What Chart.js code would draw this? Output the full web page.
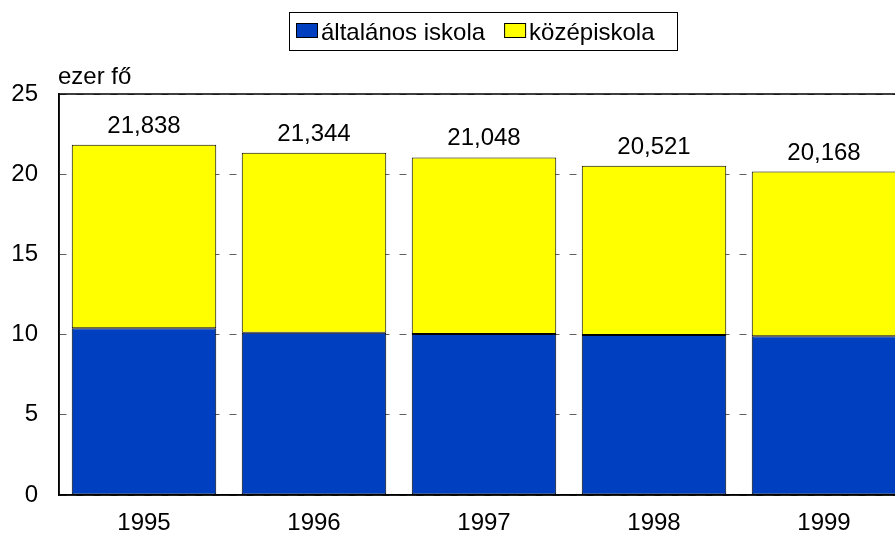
<!DOCTYPE html>
<html>
<head>
<meta charset="utf-8">
<script src="https://cdn.jsdelivr.net/npm/chart.js@4"></script>
<style>
  body { margin: 0; background: #fff; }
  #wrap { width: 895px; height: 534px; overflow: hidden; }
</style>
</head>
<body>
<div id="wrap"><canvas id="myChart" width="915" height="534"></canvas></div>
<script>
const years = ["1995", "1996", "1997", "1998", "1999"];
const totals = [21.838, 21.344, 21.048, 20.521, 20.168];
const altalanos = [10.4, 10.11, 10.03, 9.97, 9.9];
const kozep = [11.438, 11.234, 11.018, 10.551, 10.268];
const seriesNames = ["általános iskola", "középiskola"];
const seriesColors = ["#0040c0", "#ffff00"];

const FONT = "'Liberation Sans', Arial, sans-serif";

// frame, unit label, totals above bars, boxed legend
const extras = {
  id: "extras",
  afterDraw(chart) {
    const c = chart.ctx;
    const a = chart.chartArea;
    c.save();
    c.strokeStyle = "#000";
    c.lineWidth = 1.5;
    c.strokeRect(a.left, a.top, a.right - a.left, a.bottom - a.top);

    c.fillStyle = "#000";
    c.font = "24px " + FONT;
    c.textAlign = "left";
    c.textBaseline = "alphabetic";
    c.fillText("ezer fő", a.left - 1, 84);

    const meta = chart.getDatasetMeta(1);
    c.textAlign = "center";
    meta.data.forEach((bar, i) => {
      c.fillText(totals[i].toFixed(3).replace(".", ","), bar.x, bar.y - 12);
    });

    // legend
    c.lineWidth = 1;
    c.strokeRect(289.5, 12.5, 388, 38);
    let x = 296;
    seriesNames.forEach((name, i) => {
      c.fillStyle = seriesColors[i];
      c.fillRect(x, 23, 22, 15);
      c.strokeStyle = "#000";
      c.strokeRect(x + 0.5, 23.5, 21, 14);
      c.fillStyle = "#000";
      c.textAlign = "left";
      c.fillText(name, x + 25, 40);
      x += 25 + c.measureText(name).width + 19;
    });
    c.restore();
  }
};

new Chart(document.getElementById("myChart"), {
  type: "bar",
  data: {
    labels: years,
    datasets: [
      {
        label: seriesNames[0],
        data: altalanos,
        backgroundColor: seriesColors[0],
        borderColor: "#000",
        borderWidth: 1,
        borderSkipped: false
      },
      {
        label: seriesNames[1],
        data: kozep,
        backgroundColor: seriesColors[1],
        borderColor: "#000",
        borderWidth: 1,
        borderSkipped: false
      }
    ]
  },
  options: {
    responsive: false,
    animation: false,
    layout: { padding: { top: 94, left: 0, right: 6, bottom: 0 } },
    datasets: { bar: { categoryPercentage: 1, barPercentage: 0.85 } },
    plugins: {
      legend: { display: false },
      tooltip: { enabled: false }
    },
    scales: {
      x: {
        stacked: true,
        grid: { display: false },
        border: { color: "#000", width: 1.5 },
        ticks: { color: "#000", font: { family: FONT, size: 24 }, padding: 6 },
        afterFit(s) { s.height = 39; }
      },
      y: {
        stacked: true,
        min: 0,
        max: 25,
        grid: { color: "#606060", drawTicks: false },
        border: { color: "#000", width: 1.5, dash: [7, 10] },
        ticks: { stepSize: 5, color: "#000", font: { family: FONT, size: 24 }, padding: 21 },
        afterFit(s) { s.width = 59; }
      }
    }
  },
  plugins: [extras]
});
</script>
</body>
</html>
